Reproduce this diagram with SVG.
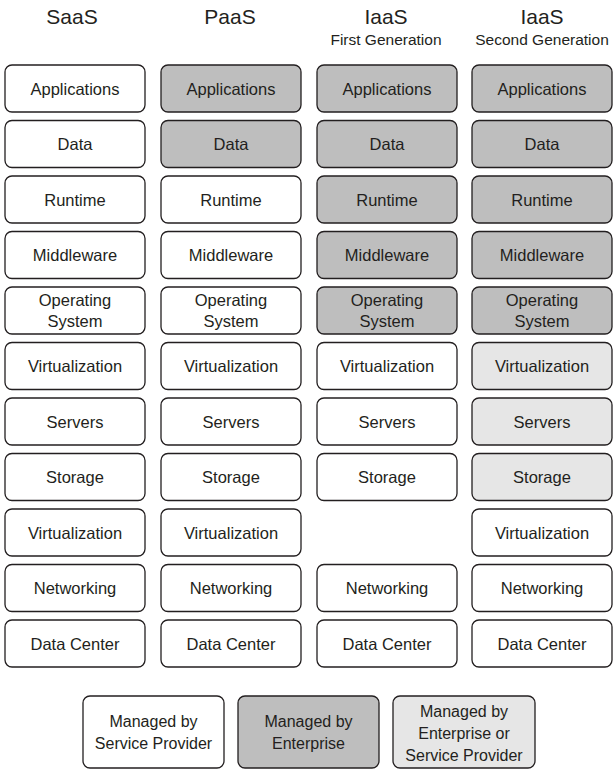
<svg xmlns="http://www.w3.org/2000/svg" width="615" height="770" viewBox="0 0 615 770">
<style>
rect{stroke:#231f20;stroke-width:1.3}
rect.bg{fill:#ffffff;stroke:none}
.w{fill:#ffffff}
.d{fill:#bebebe}
.l{fill:#e6e6e6}
text{font-family:"Liberation Sans",Arial,sans-serif;fill:#231f20;text-anchor:middle}
.t{font-size:21px}
.s{font-size:15.5px}
.b{font-size:16.5px}
.g{font-size:16px}
</style>
<rect class="bg" x="0" y="0" width="615" height="770"/>
<g id="titles">
<text class="t" x="72" y="24">SaaS</text>
<text class="t" x="230" y="24">PaaS</text>
<text class="t" x="386" y="24">IaaS</text>
<text class="s" x="386" y="45">First Generation</text>
<text class="t" x="542" y="24">IaaS</text>
<text class="s" x="542" y="45">Second Generation</text>
</g>
<g id="saas">
<rect class="w" x="5" y="65" width="140" height="47" rx="7"/><text class="b" x="75" y="94.5">Applications</text>
<rect class="w" x="5" y="120.5" width="140" height="47" rx="7"/><text class="b" x="75" y="150">Data</text>
<rect class="w" x="5" y="176" width="140" height="47" rx="7"/><text class="b" x="75" y="205.5">Runtime</text>
<rect class="w" x="5" y="231.5" width="140" height="47" rx="7"/><text class="b" x="75" y="261">Middleware</text>
<rect class="w" x="5" y="287" width="140" height="47" rx="7"/><text class="b" x="75" y="306">Operating</text><text class="b" x="75" y="327">System</text>
<rect class="w" x="5" y="342.5" width="140" height="47" rx="7"/><text class="b" x="75" y="372">Virtualization</text>
<rect class="w" x="5" y="398" width="140" height="47" rx="7"/><text class="b" x="75" y="427.5">Servers</text>
<rect class="w" x="5" y="453.5" width="140" height="47" rx="7"/><text class="b" x="75" y="483">Storage</text>
<rect class="w" x="5" y="509" width="140" height="47" rx="7"/><text class="b" x="75" y="538.5">Virtualization</text>
<rect class="w" x="5" y="564.5" width="140" height="47" rx="7"/><text class="b" x="75" y="594">Networking</text>
<rect class="w" x="5" y="620" width="140" height="47" rx="7"/><text class="b" x="75" y="649.5">Data Center</text>
</g>
<g id="paas">
<rect class="d" x="161" y="65" width="140" height="47" rx="7"/><text class="b" x="231" y="94.5">Applications</text>
<rect class="d" x="161" y="120.5" width="140" height="47" rx="7"/><text class="b" x="231" y="150">Data</text>
<rect class="w" x="161" y="176" width="140" height="47" rx="7"/><text class="b" x="231" y="205.5">Runtime</text>
<rect class="w" x="161" y="231.5" width="140" height="47" rx="7"/><text class="b" x="231" y="261">Middleware</text>
<rect class="w" x="161" y="287" width="140" height="47" rx="7"/><text class="b" x="231" y="306">Operating</text><text class="b" x="231" y="327">System</text>
<rect class="w" x="161" y="342.5" width="140" height="47" rx="7"/><text class="b" x="231" y="372">Virtualization</text>
<rect class="w" x="161" y="398" width="140" height="47" rx="7"/><text class="b" x="231" y="427.5">Servers</text>
<rect class="w" x="161" y="453.5" width="140" height="47" rx="7"/><text class="b" x="231" y="483">Storage</text>
<rect class="w" x="161" y="509" width="140" height="47" rx="7"/><text class="b" x="231" y="538.5">Virtualization</text>
<rect class="w" x="161" y="564.5" width="140" height="47" rx="7"/><text class="b" x="231" y="594">Networking</text>
<rect class="w" x="161" y="620" width="140" height="47" rx="7"/><text class="b" x="231" y="649.5">Data Center</text>
</g>
<g id="iaas1">
<rect class="d" x="317" y="65" width="140" height="47" rx="7"/><text class="b" x="387" y="94.5">Applications</text>
<rect class="d" x="317" y="120.5" width="140" height="47" rx="7"/><text class="b" x="387" y="150">Data</text>
<rect class="d" x="317" y="176" width="140" height="47" rx="7"/><text class="b" x="387" y="205.5">Runtime</text>
<rect class="d" x="317" y="231.5" width="140" height="47" rx="7"/><text class="b" x="387" y="261">Middleware</text>
<rect class="d" x="317" y="287" width="140" height="47" rx="7"/><text class="b" x="387" y="306">Operating</text><text class="b" x="387" y="327">System</text>
<rect class="w" x="317" y="342.5" width="140" height="47" rx="7"/><text class="b" x="387" y="372">Virtualization</text>
<rect class="w" x="317" y="398" width="140" height="47" rx="7"/><text class="b" x="387" y="427.5">Servers</text>
<rect class="w" x="317" y="453.5" width="140" height="47" rx="7"/><text class="b" x="387" y="483">Storage</text>
<rect class="w" x="317" y="564.5" width="140" height="47" rx="7"/><text class="b" x="387" y="594">Networking</text>
<rect class="w" x="317" y="620" width="140" height="47" rx="7"/><text class="b" x="387" y="649.5">Data Center</text>
</g>
<g id="iaas2">
<rect class="d" x="472" y="65" width="140" height="47" rx="7"/><text class="b" x="542" y="94.5">Applications</text>
<rect class="d" x="472" y="120.5" width="140" height="47" rx="7"/><text class="b" x="542" y="150">Data</text>
<rect class="d" x="472" y="176" width="140" height="47" rx="7"/><text class="b" x="542" y="205.5">Runtime</text>
<rect class="d" x="472" y="231.5" width="140" height="47" rx="7"/><text class="b" x="542" y="261">Middleware</text>
<rect class="d" x="472" y="287" width="140" height="47" rx="7"/><text class="b" x="542" y="306">Operating</text><text class="b" x="542" y="327">System</text>
<rect class="l" x="472" y="342.5" width="140" height="47" rx="7"/><text class="b" x="542" y="372">Virtualization</text>
<rect class="l" x="472" y="398" width="140" height="47" rx="7"/><text class="b" x="542" y="427.5">Servers</text>
<rect class="l" x="472" y="453.5" width="140" height="47" rx="7"/><text class="b" x="542" y="483">Storage</text>
<rect class="w" x="472" y="509" width="140" height="47" rx="7"/><text class="b" x="542" y="538.5">Virtualization</text>
<rect class="w" x="472" y="564.5" width="140" height="47" rx="7"/><text class="b" x="542" y="594">Networking</text>
<rect class="w" x="472" y="620" width="140" height="47" rx="7"/><text class="b" x="542" y="649.5">Data Center</text>
</g>
<g id="legend-provider">
<rect class="w" x="83" y="696" width="141" height="72" rx="7"/>
<text class="g" x="153.5" y="727">Managed by</text>
<text class="g" x="153.5" y="749">Service Provider</text>
</g>
<g id="legend-enterprise">
<rect class="d" x="238" y="696" width="141" height="72" rx="7"/>
<text class="g" x="308.5" y="727">Managed by</text>
<text class="g" x="308.5" y="749">Enterprise</text>
</g>
<g id="legend-either">
<rect class="l" x="393" y="696" width="142" height="72" rx="7"/>
<text class="g" x="464" y="717">Managed by</text>
<text class="g" x="464" y="739">Enterprise or</text>
<text class="g" x="464" y="761">Service Provider</text>
</g>
<g id="connectors"/>
</svg>
